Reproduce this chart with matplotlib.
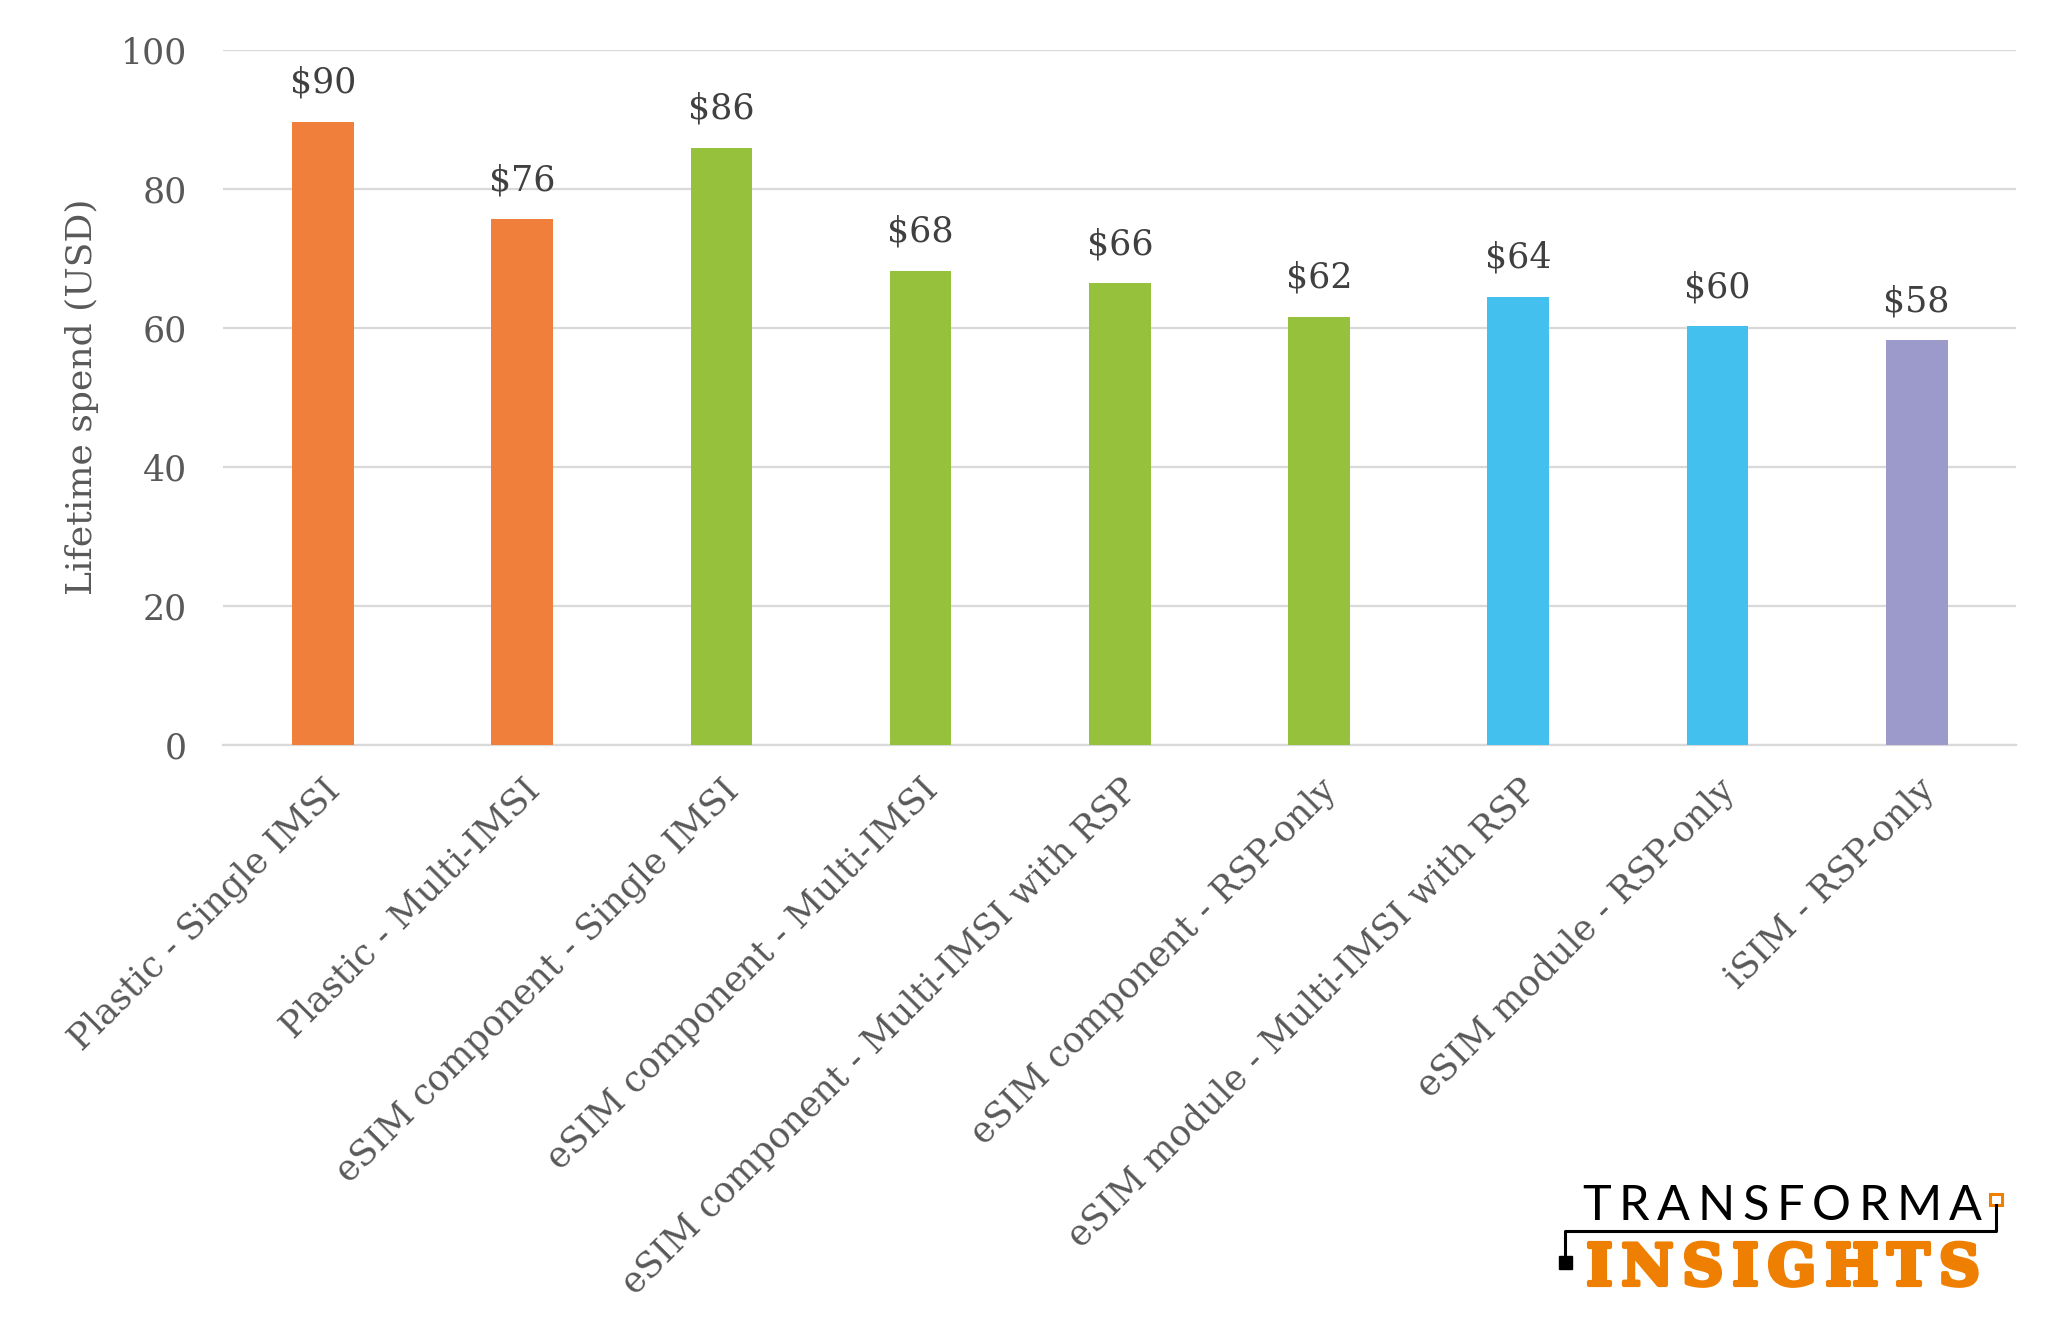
import matplotlib
matplotlib.use("Agg")
import matplotlib.pyplot as plt
import numpy as np
from matplotlib.patches import Rectangle
from matplotlib.lines import Line2D
import matplotlib.patheffects as pe

categories = [
    "Plastic - Single IMSI",
    "Plastic - Multi-IMSI",
    "eSIM component - Single IMSI",
    "eSIM component - Multi-IMSI",
    "eSIM component - Multi-IMSI with RSP",
    "eSIM component - RSP-only",
    "eSIM module - Multi-IMSI with RSP",
    "eSIM module - RSP-only",
    "iSIM - RSP-only",
]
values = [89.6, 75.6, 85.9, 68.2, 66.4, 61.6, 64.4, 60.2, 58.2]
colors = ["#EF7F3B", "#EF7F3B", "#96C13D", "#96C13D", "#96C13D", "#96C13D",
          "#44C0EE", "#44C0EE", "#9C9ACA"]
yticks = [0, 20, 40, 60, 80, 100]
ylabel = "Lifetime spend (USD)"

plt.rcParams['font.family'] = ['DejaVu Serif']
TXT = "#595959"

fig = plt.figure(figsize=(20.68, 13.42), dpi=100)
ax = fig.add_axes([0.108, 0.445, 0.867, 0.518])

x = np.arange(len(categories))
bars = ax.bar(x, values, width=0.31, color=colors, zorder=3)
for b, v in zip(bars, values):
    ax.annotate(f"${v:.0f}", (b.get_x() + b.get_width() / 2, v),
                xytext=(0, 16), textcoords="offset points",
                ha="center", va="bottom", fontsize=25, color="#404040")

ax.set_xlim(-0.5, len(categories) - 0.5)
ax.set_ylim(0, 100)
ax.set_yticks(yticks)
ax.yaxis.grid(True, color="#D9D9D9", linewidth=1.6, zorder=0)
ax.set_axisbelow(True)
for s in ["top", "right", "left"]:
    ax.spines[s].set_visible(False)
ax.spines["bottom"].set_color("#D9D9D9")
ax.spines["bottom"].set_linewidth(1.6)
ax.tick_params(axis="y", length=0, pad=26, labelsize=25, labelcolor=TXT)
ax.tick_params(axis="x", length=0, pad=20)
ax.set_xticks(x)
ax.set_xticklabels(categories, rotation=45, ha="right", va="top",
                   rotation_mode="anchor", fontsize=25.5, color=TXT)
ax.set_ylabel(ylabel, fontsize=26, color=TXT, labelpad=16)

# logo
W, H = 2068.0, 1342.0
def fx(px):
    return px / W
def fy(py):
    return 1 - py / H

renderer = fig.canvas.get_renderer()

def spaced_word(word, left, right, baseline, **kw):
    arts = [fig.text(0, fy(baseline), ch, ha="left", va="baseline", **kw) for ch in word]
    widths = [a.get_window_extent(renderer).width for a in arts]
    gap = ((right - left) - sum(widths)) / (len(word) - 1)
    pos = left
    for a, w in zip(arts, widths):
        a.set_x(fx(pos))
        pos += w + gap

spaced_word("TRANSFORMA", 1582, 1982, 1220, fontsize=35, family="Lato",
            color="#000000")
spaced_word("INSIGHTS", 1586, 1980, 1285, fontsize=41, family="DejaVu Serif",
            fontweight="bold", color="#EE7F00",
            path_effects=[pe.withStroke(linewidth=3, foreground="#EE7F00")])

fig.add_artist(Line2D([fx(1996), fx(1996), fx(1565), fx(1565)],
                      [fy(1205), fy(1231), fy(1231), fy(1258)],
                      color="black", linewidth=2.2, transform=fig.transFigure))
fig.add_artist(Rectangle((fx(1990), fy(1205)), 12 / W, 11 / H, facecolor="white",
                         edgecolor="#EE7F00", linewidth=2.2, transform=fig.transFigure))
fig.add_artist(Rectangle((fx(1559), fy(1269)), 13 / W, 13 / H, facecolor="black",
                         edgecolor="black", transform=fig.transFigure))

fig.savefig("out.png", dpi=100, facecolor="white")
